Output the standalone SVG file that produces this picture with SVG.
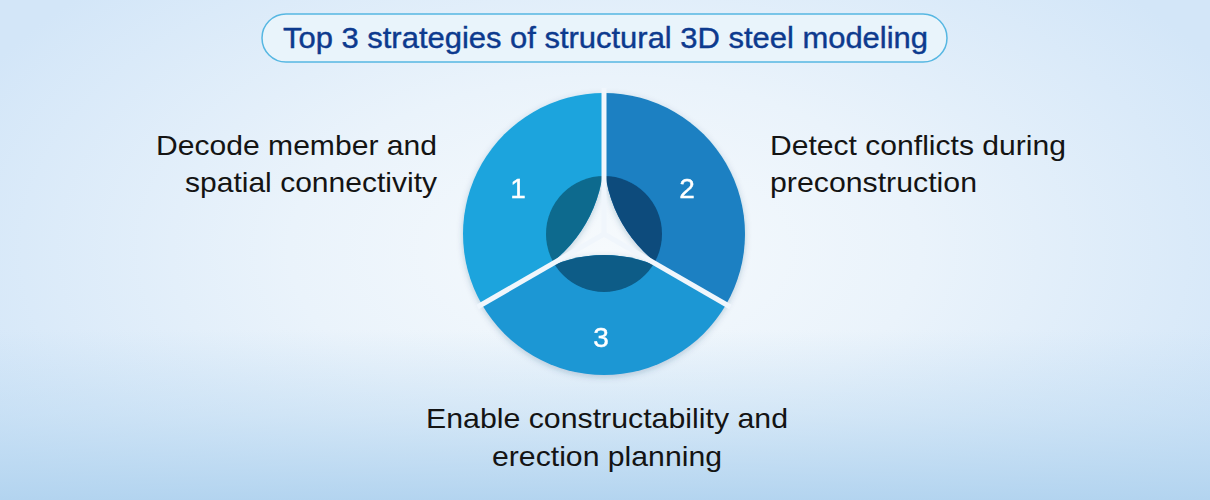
<svg xmlns="http://www.w3.org/2000/svg" width="1210" height="500" viewBox="0 0 1210 500">
  <defs>
    <radialGradient id="bg" cx="605" cy="250" r="700" gradientUnits="userSpaceOnUse" gradientTransform="translate(605 250) scale(1 0.55) translate(-605 -250)">
      <stop offset="0" stop-color="#f6fafd"/>
      <stop offset="0.45" stop-color="#eaf3fb"/>
      <stop offset="1" stop-color="#d3e6f8"/>
    </radialGradient>
    <linearGradient id="bottom" x1="0" y1="330" x2="0" y2="500" gradientUnits="userSpaceOnUse">
      <stop offset="0" stop-color="#b9d8f1" stop-opacity="0"/>
      <stop offset="0.5" stop-color="#b9d8f1" stop-opacity="0.45"/>
      <stop offset="1" stop-color="#b1d3ef" stop-opacity="0.95"/>
    </linearGradient>
    <filter id="shadow" x="-20%" y="-20%" width="140%" height="140%">
      <feDropShadow dx="0" dy="2" stdDeviation="3" flood-color="#1a4a70" flood-opacity="0.25"/>
    </filter>
    <clipPath id="c1"><path d="M604 156 L604 93 A141 141 0 0 0 481.9 304.5 L536.5 273 A136 136 0 0 0 604 156 Z"/></clipPath>
    <clipPath id="c2"><path d="M604 156 L604 93 A141 141 0 0 1 726.1 304.5 L671.5 273 A136 136 0 0 1 604 156 Z"/></clipPath>
    <clipPath id="c3"><path d="M481.9 304.5 L536.5 273 A136 136 0 0 1 671.5 273 L726.1 304.5 A141 141 0 0 1 481.9 304.5 Z"/></clipPath>
  </defs>
  <style>
    .lbl { font-family: "Liberation Sans", Arial, sans-serif; font-size: 28px; fill: #141414; }
    .num { font-family: "Liberation Sans", Arial, sans-serif; font-size: 28px; fill: #ffffff; text-anchor: middle; stroke: #ffffff; stroke-width: 0.4px; }
    .title { font-family: "Liberation Sans", Arial, sans-serif; font-size: 29px; fill: #0d3a8e; stroke: #0d3a8e; stroke-width: 0.4px; }
    .gap { stroke: #f0f6fc; stroke-width: 5; stroke-linecap: butt; }
  </style>

  <rect x="0" y="0" width="1210" height="500" fill="url(#bg)"/>
  <rect x="0" y="330" width="1210" height="170" fill="url(#bottom)"/>

  <g id="title">
    <rect x="262" y="14" width="685" height="48" rx="24" ry="24" fill="#e9f4fb" stroke="#56b7e2" stroke-width="1.5"/>
    <text class="title" x="283" y="48" textLength="645" lengthAdjust="spacingAndGlyphs">Top 3 strategies of structural 3D steel modeling</text>
  </g>

  <g id="wheel" filter="url(#shadow)">
    <g id="segment1">
      <path d="M604 156 L604 93 A141 141 0 0 0 481.9 304.5 L536.5 273 A136 136 0 0 0 604 156 Z" fill="#1ba4dd"/>
      <circle cx="604" cy="234" r="58" fill="#0e6a8e" clip-path="url(#c1)"/>
      <text class="num" x="518" y="198">1</text>
    </g>
    <g id="segment2">
      <path d="M604 156 L604 93 A141 141 0 0 1 726.1 304.5 L671.5 273 A136 136 0 0 1 604 156 Z" fill="#1a80c2"/>
      <circle cx="604" cy="234" r="58" fill="#0b4b7c" clip-path="url(#c2)"/>
      <text class="num" x="687" y="198">2</text>
    </g>
    <g id="segment3">
      <path d="M481.9 304.5 L536.5 273 A136 136 0 0 1 671.5 273 L726.1 304.5 A141 141 0 0 1 481.9 304.5 Z" fill="#1f97d4"/>
      <circle cx="604" cy="234" r="58" fill="#0b5b87" clip-path="url(#c3)"/>
      <text class="num" x="601" y="347">3</text>
    </g>
  </g>

  <g id="connectors">
    <line class="gap" x1="604" y1="234" x2="604" y2="88"/>
    <line class="gap" x1="604" y1="234" x2="477.5" y2="307"/>
    <line class="gap" x1="604" y1="234" x2="730.5" y2="307"/>
  </g>

  <g id="label1">
    <text class="lbl" x="437" y="155" text-anchor="end" textLength="281" lengthAdjust="spacingAndGlyphs">Decode member and</text>
    <text class="lbl" x="437" y="192" text-anchor="end" textLength="252" lengthAdjust="spacingAndGlyphs">spatial connectivity</text>
  </g>
  <g id="label2">
    <text class="lbl" x="770" y="155" textLength="296" lengthAdjust="spacingAndGlyphs">Detect conflicts during</text>
    <text class="lbl" x="770" y="192" textLength="207" lengthAdjust="spacingAndGlyphs">preconstruction</text>
  </g>
  <g id="label3">
    <text class="lbl" x="607" y="428" text-anchor="middle" textLength="362" lengthAdjust="spacingAndGlyphs">Enable constructability and</text>
    <text class="lbl" x="607" y="466" text-anchor="middle" textLength="230" lengthAdjust="spacingAndGlyphs">erection planning</text>
  </g>
</svg>
